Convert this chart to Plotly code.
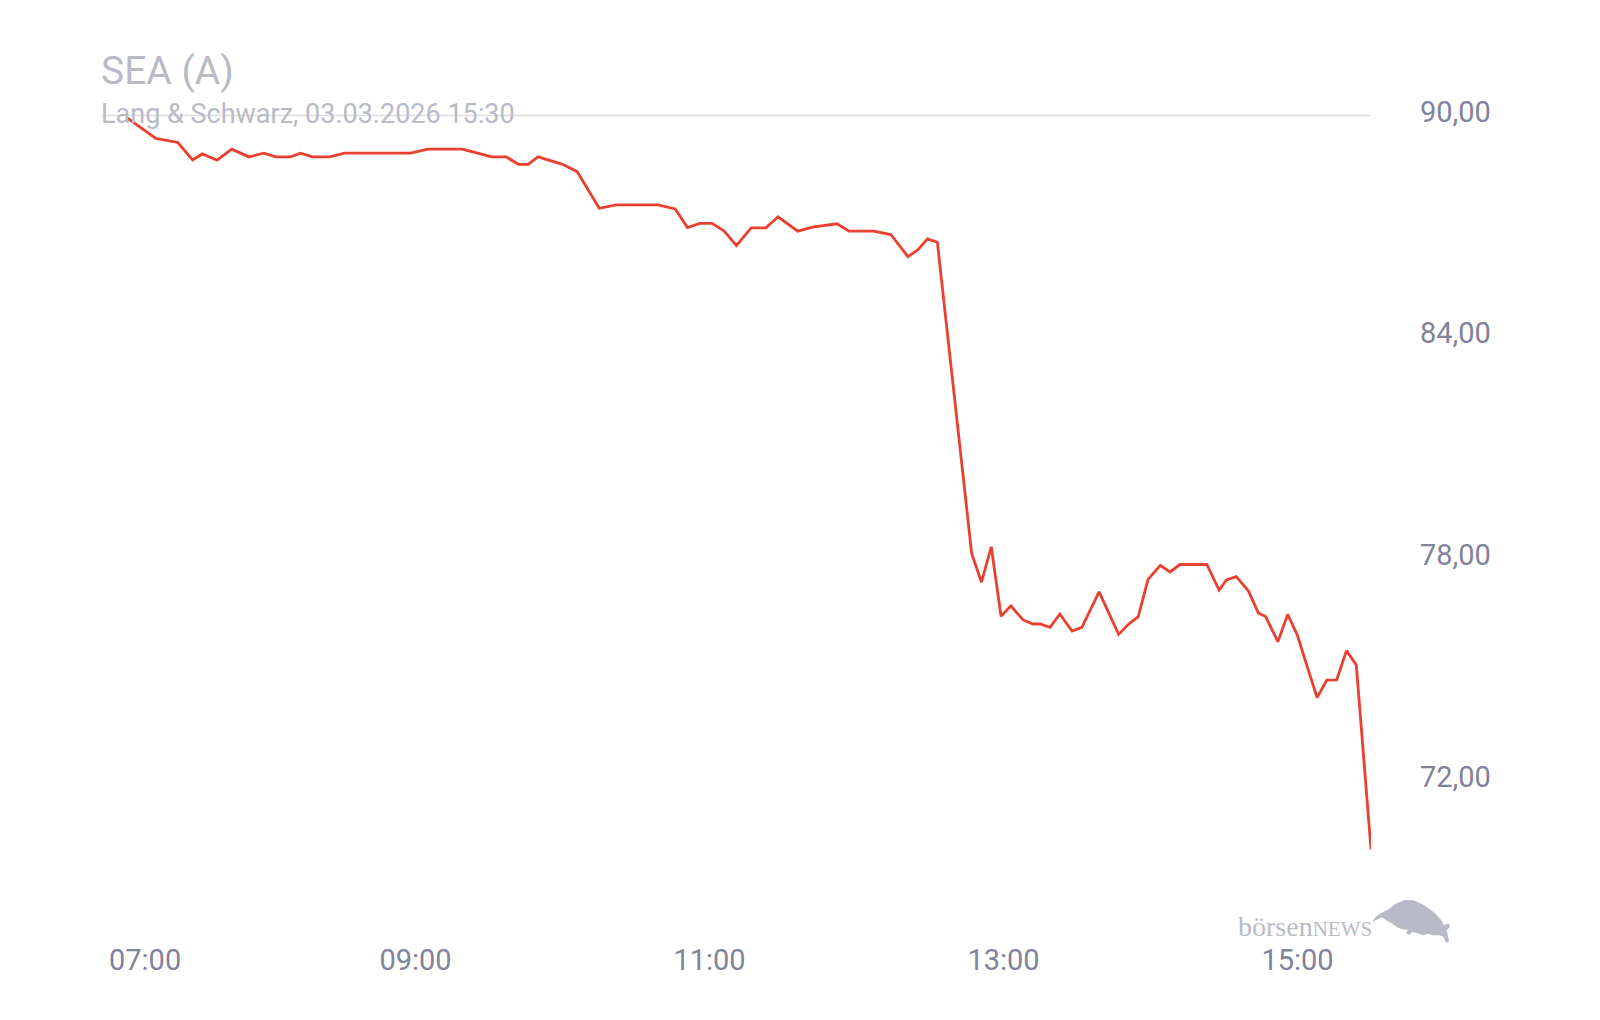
import plotly.graph_objects as go

# ---- data ----
times = ["07:02", "07:14", "07:23", "07:29", "07:33", "07:39", "07:45", "07:52", "07:58",
         "08:03", "08:09", "08:13", "08:18", "08:25", "08:31", "08:58", "09:05", "09:19",
         "09:25", "09:31", "09:37", "09:42", "09:46", "09:50", "10:00", "10:06", "10:15",
         "10:22", "10:39", "10:46", "10:51", "10:56", "11:01", "11:06", "11:11", "11:17",
         "11:23", "11:28", "11:36", "11:42", "11:52", "11:57", "12:07", "12:14", "12:21",
         "12:25", "12:29", "12:33", "12:47", "12:51", "12:55", "12:59", "13:03", "13:08",
         "13:12", "13:15", "13:19", "13:23", "13:28", "13:32", "13:39", "13:44", "13:47",
         "13:51", "13:55", "13:59", "14:04", "14:08", "14:12", "14:23", "14:28", "14:31",
         "14:35", "14:40", "14:44", "14:47", "14:52", "14:56", "15:00", "15:04", "15:08",
         "15:12", "15:16", "15:20", "15:24", "15:30"]
prices = [89.95, 89.38, 89.27, 88.80, 88.96, 88.79, 89.09, 88.88, 88.98,
          88.88, 88.88, 88.98, 88.88, 88.88, 88.98, 88.98, 89.09, 89.09,
          88.99, 88.88, 88.88, 88.68, 88.68, 88.88, 88.68, 88.48, 87.49,
          87.58, 87.58, 87.47, 86.97, 87.08, 87.08, 86.87, 86.48, 86.96,
          86.96, 87.26, 86.87, 86.98, 87.07, 86.87, 86.87, 86.78, 86.18,
          86.36, 86.66, 86.57, 78.15, 77.37, 78.33, 76.45, 76.73, 76.35,
          76.24, 76.24, 76.15, 76.51, 76.05, 76.15, 77.11, 76.42, 75.96,
          76.23, 76.44, 77.45, 77.83, 77.65, 77.85, 77.85, 77.16, 77.43,
          77.52, 77.13, 76.54, 76.44, 75.76, 76.50, 75.93, 75.08, 74.25,
          74.72, 74.73, 75.52, 75.13, 70.14]

date = "2026-03-03"
x_ticks = ["09:00", "11:00", "13:00", "15:00"]
first_tick = "07:00"
y_ticks = [72, 78, 84, 90]
title_text = "SEA (A)"
subtitle_text = "Lang & Schwarz, 03.03.2026 15:30"

# ---- styles ----
RED = "#e9402f"
TICK = "#80839a"
LIGHT = "#b9bac7"
OFF = 8  # page body margin
W, H = 1600 - OFF, 1020 - OFF
# plot area in page pixels: left 102, right 1371, top 79, bottom 930
ML, MT = 102 - OFF, 79 - OFF
MR, MB = W - (1371 - OFF), H - (930 - OFF)
PW, PH = W - ML - MR, H - MT - MB

def px_to_paper(x, y):
    """page pixel -> paper coords"""
    return (x - OFF - ML) / PW, (H - MB - (y - OFF)) / PH

fig = go.Figure()
fig.add_trace(go.Scatter(
    x=[f"{date} {t}" for t in times], y=prices, mode="lines",
    line=dict(color=RED, width=2.8), hoverinfo="skip", showlegend=False,
))

# single gridline at the top value
fig.add_shape(type="line", xref="paper", yref="y", x0=0, x1=1, y0=90, y1=90,
              line=dict(color="#dedede", width=1.5), layer="below")

annotations = [
    dict(text=title_text, xref="paper", yref="paper", x=0, y=px_to_paper(0, 71)[1],
         xanchor="left", yanchor="middle", showarrow=False, xshift=-3,
         font=dict(family="Roboto", size=39, color=LIGHT)),
    dict(text=subtitle_text, xref="paper", yref="paper", x=0, y=px_to_paper(0, 114)[1],
         xanchor="left", yanchor="middle", showarrow=False, xshift=-3,
         font=dict(family="Roboto", size=27, color=LIGHT)),
    dict(text=first_tick, xref="x", yref="paper", x=f"{date} {first_tick}",
         y=px_to_paper(0, 960)[1], xanchor="center", yanchor="middle", xshift=23,
         showarrow=False, font=dict(family="Roboto", size=29, color=TICK)),
    dict(text="börsen<span style='font-size:21px'>NEWS</span>", xref="paper", yref="paper",
         x=px_to_paper(1374, 0)[0], y=px_to_paper(0, 926)[1], xanchor="right", yanchor="middle",
         showarrow=False, font=dict(family="Liberation Serif", size=28, color=LIGHT)),
]

# bull logo (approximate outline, in reference-zoom coords)
bull = [(516, 158), (526, 142), (545, 128), (562, 120), (590, 100), (615, 90), (640, 91),
        (670, 104), (700, 125), (722, 148), (732, 166), (746, 160), (750, 172), (740, 180),
        (744, 200), (748, 214), (738, 218), (730, 200), (718, 196), (700, 196), (684, 192),
        (668, 196), (650, 188), (636, 186), (628, 194), (618, 190), (624, 180), (606, 178),
        (592, 172), (575, 160), (560, 152), (546, 142), (528, 150)]
pts = [px_to_paper(1200 + zx / 3, 870 + zy / 3) for zx, zy in bull]
path = "M " + " L ".join(f"{a:.5f},{b:.5f}" for a, b in pts) + " Z"
fig.add_shape(type="path", xref="paper", yref="paper", path=path,
              fillcolor=LIGHT, line=dict(width=0))

fig.update_layout(
    width=W, height=H, margin=dict(l=ML, r=MR, t=MT, b=MB, pad=0),
    paper_bgcolor="white", plot_bgcolor="white",
    separators=",.",
    annotations=annotations,
    xaxis=dict(
        range=[f"{date} 06:52:02", f"{date} 15:30:00"],
        tickvals=[f"{date} {t}" for t in x_ticks], ticktext=x_ticks,
        showgrid=False, zeroline=False, showline=False, ticks="",
        ticklabelstandoff=10,
        tickfont=dict(family="Roboto", size=29, color=TICK),
    ),
    yaxis=dict(
        range=[67.96, 90.988], side="right",
        tickvals=y_ticks, tickformat=".2f",
        showgrid=False, zeroline=False, showline=False, ticks="",
        ticklabelstandoff=48, ticklabelshift=-4,
        tickfont=dict(family="Roboto", size=29, color=TICK),
    ),
)

fig.write_html("out.html")
